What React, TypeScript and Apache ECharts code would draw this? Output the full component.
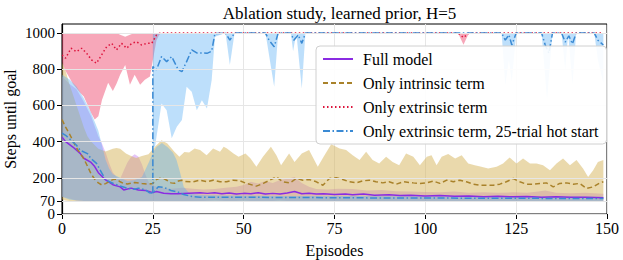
import React, { useEffect, useRef } from "react";
import * as echarts from "echarts";

const TITLE = "Ablation study, learned prior, H=5";
const Y_NAME = "Steps until goal";
const X_TICKS_INTERVAL = 25;
const Y_TICKS = [0, 70, 200, 400, 600, 800, 1000];
const THRESHOLD = 200;

const NAMES = [
  "Full model",
  "Only intrinsic term",
  "Only extrinsic term",
  "Only extrinsic term, 25-trial hot start",
];

// ---- Full model (mean) [episode, steps]
const fullMean = [
  [0, 425], [1, 400], [3, 370], [5, 335], [6, 308], [8, 285], [9, 262], [10, 228], [12, 188], [14, 162],
  [16, 150], [17, 133], [19, 143], [21, 133], [23, 130], [25, 118], [26, 124], [28, 115], [30, 112], [32, 112],
  [35, 115], [38, 118], [40, 114], [42, 118], [44, 112], [46, 116], [48, 110], [50, 114], [52, 112], [54, 118],
  [56, 110], [58, 114], [60, 110], [62, 116], [64, 124], [66, 112], [68, 115], [70, 110], [72, 112], [75, 108],
  [78, 110], [80, 106], [83, 110], [86, 104], [90, 106], [93, 102], [96, 104], [100, 100], [104, 102], [108, 98],
  [112, 100], [116, 96], [120, 98], [124, 95], [128, 97], [132, 93], [136, 95], [140, 92], [144, 93], [149, 90],
];
// ---- Full model band [episode, low, high]
const fullBand = [
  [0, 95, 760], [2, 85, 720], [4, 75, 690], [6, 72, 620], [8, 72, 540], [10, 72, 430], [11, 72, 390], [12, 72, 340],
  [13, 72, 280], [14, 72, 230], [15, 72, 205], [16, 72, 195], [17, 72, 240], [18, 72, 285], [19, 72, 315], [20, 72, 330],
  [21, 72, 318], [22, 72, 275], [23, 72, 215], [24, 72, 170], [26, 72, 150], [28, 72, 142], [30, 72, 140], [33, 72, 145],
  [36, 72, 140], [39, 72, 135], [42, 74, 138], [45, 72, 145], [48, 72, 150], [50, 74, 160], [52, 72, 178], [54, 72, 168],
  [56, 72, 182], [58, 72, 172], [60, 74, 188], [62, 72, 195], [64, 72, 205], [66, 72, 172], [68, 72, 150], [70, 72, 138],
  [73, 72, 135], [76, 72, 140], [80, 72, 138], [84, 72, 130], [88, 72, 132], [92, 72, 126], [96, 72, 124], [100, 72, 122],
  [104, 72, 120], [108, 72, 125], [112, 72, 118], [116, 72, 120], [120, 72, 117], [124, 72, 120], [128, 72, 118],
  [131, 72, 125], [133, 72, 130], [136, 72, 118], [140, 72, 115], [144, 72, 117], [149, 72, 112],
];

// ---- Only intrinsic term
const intrMean = [
  [0, 522], [1, 480], [2, 445], [3, 405], [4, 365], [5, 335], [6, 305], [7, 265], [8, 222], [9, 192], [10, 172],
  [11, 160], [12, 168], [13, 180], [14, 190], [15, 192], [16, 178], [17, 168], [18, 166], [19, 170], [20, 174],
  [22, 168], [24, 165], [25, 168], [26, 190], [27, 198], [28, 196], [29, 185], [30, 172], [31, 170], [32, 182],
  [33, 186], [34, 180], [36, 178], [38, 187], [40, 178], [41.6, 187], [43.5, 178], [45.3, 178], [47.1, 187],
  [49, 183], [50.8, 169], [53.5, 154], [55.4, 169], [57.2, 187], [59, 205], [60.8, 178], [62.7, 172], [64.5, 196],
  [66.3, 187], [68, 191], [70, 178], [71.8, 159], [73.6, 196], [75.5, 200], [77.3, 191], [79.1, 178], [81, 172],
  [82.8, 183], [84.6, 187], [86.4, 178], [88.3, 172], [90, 178], [92, 165], [94, 178], [96.7, 172], [98.5, 169],
  [100.4, 172], [102.2, 182], [104, 169], [105.9, 187], [107.7, 178], [109.5, 187], [111.3, 178], [113.2, 165],
  [115, 159], [116.8, 159], [118.7, 159], [120.5, 165], [122.3, 178], [124.2, 196], [126, 178], [127.8, 165],
  [129.7, 165], [131.5, 169], [133.3, 172], [135.2, 150], [137, 169], [138.9, 172], [140.7, 165], [142.5, 169],
  [144.4, 141], [146.2, 150], [148.1, 172], [149, 178],
];
const intrBand = [
  [0, 80, 840], [1, 75, 790], [2, 72, 720], [3, 72, 660], [4, 72, 600], [5, 72, 540], [6, 72, 480], [7, 72, 430],
  [8, 72, 400], [10, 72, 360], [12, 72, 345], [14, 72, 360], [15, 72, 365], [16, 72, 360], [17.6, 72, 335],
  [19, 72, 320], [20.4, 72, 310], [22, 72, 320], [23.8, 72, 330], [25.6, 72, 371], [27.4, 72, 408], [29, 72, 390],
  [31, 72, 343], [32.3, 72, 316], [33.7, 72, 343], [35, 72, 340], [36.5, 72, 362], [38, 72, 353], [39.8, 72, 325],
  [41.6, 72, 362], [43.5, 72, 344], [44.5, 72, 371], [45.4, 72, 362], [47.2, 72, 335], [48.6, 72, 316], [50.5, 72, 335],
  [51.9, 72, 307], [53.5, 72, 261], [55.3, 72, 316], [57.5, 72, 371], [59, 72, 325], [60.3, 72, 270], [62.5, 72, 335],
  [64, 72, 288], [66, 72, 335], [68, 72, 353], [70.4, 72, 261], [72, 72, 316], [74.1, 72, 386], [76.4, 72, 362],
  [78.2, 72, 353], [80, 72, 325], [81.9, 72, 298], [83.7, 72, 344], [85.5, 72, 298], [87.3, 72, 279], [89.2, 72, 316],
  [91, 72, 288], [92.8, 72, 270], [94.7, 72, 335], [96.7, 72, 316], [98.5, 72, 270], [100.4, 72, 316], [101.7, 72, 325],
  [103.1, 72, 270], [104.5, 72, 316], [106.3, 72, 331], [108.2, 72, 307], [110, 72, 325], [111.8, 72, 279],
  [113.6, 72, 270], [115.4, 72, 261], [117.3, 72, 252], [119.6, 72, 261], [121.4, 72, 279], [123.2, 72, 312],
  [125.1, 72, 279], [126.9, 72, 307], [128.8, 72, 279], [130.6, 72, 279], [132.4, 72, 270], [134.3, 72, 242],
  [136.1, 72, 279], [137.9, 72, 307], [139.8, 72, 270], [141.6, 72, 298], [143.4, 72, 252], [144.8, 72, 205],
  [146.2, 72, 242], [147.5, 72, 288], [149, 72, 298],
];

// ---- Only extrinsic term
const extrMean = [
  [0, 879], [1, 861], [2.5, 916], [4, 897], [5.4, 916], [6.8, 888], [8.1, 852], [9.5, 833], [10.9, 879],
  [12.3, 925], [13.7, 943], [15, 907], [16.4, 943], [17.8, 916], [19.2, 943], [20.5, 952], [21.9, 934],
  [23.3, 943], [24.7, 943], [26, 989], [27, 1000], [109, 1000], [110.5, 975], [112, 1000], [149, 1000],
];
const extrBand = [
  [0, 840, 1000], [1, 790, 1000], [2, 755, 1000], [3, 720, 1000], [5, 670, 1000], [6, 650, 1000], [8, 560, 1000],
  [9, 522, 1000], [10, 540, 1000], [11, 630, 1000], [12.7, 725, 1000], [14, 680, 1000], [15, 720, 1000],
  [16, 770, 990], [17.4, 824, 980], [18.7, 714, 990], [20, 769, 1000], [21.5, 714, 1000], [22.8, 742, 1000],
  [24.2, 760, 1000], [25, 850, 1000], [26, 960, 1000], [27, 1000, 1000], [109, 1000, 1000], [110.5, 935, 1000],
  [112, 1000, 1000], [149, 1000, 1000],
];

// ---- Only extrinsic term, 25-trial hot start (lower branch over all episodes)
const hotLowMean = [
  [0, 447], [1, 435], [3, 398], [4, 380], [5, 352], [7, 334], [8, 306], [9.5, 280], [11, 225], [12, 188],
  [14, 170], [16, 155], [18, 142], [20, 137], [21, 143], [23, 133], [24, 118], [25, 115], [26.5, 150], [28.2, 146],
  [30, 130], [31.8, 122], [33.5, 108], [35.4, 98], [38, 93], [45, 92], [55, 92], [65, 91], [75, 90], [85, 89],
  [95, 88], [105, 88], [115, 87], [125, 87], [135, 86], [149, 85],
];
const hotLowBand = [
  [0, 95, 770], [2, 80, 745], [4, 75, 705], [6, 72, 640], [8, 72, 560], [10, 72, 460], [11, 72, 380], [12, 72, 300],
  [13, 72, 250], [14, 72, 220], [16, 72, 200], [18, 72, 182], [20, 72, 188], [22, 72, 205], [24, 72, 290],
  [25, 72, 340], [26, 72, 370], [27.5, 72, 392], [29, 72, 370], [30.5, 72, 340], [31.5, 72, 300], [32.5, 72, 230],
  [33.5, 72, 150], [35, 72, 115], [38, 72, 105], [45, 72, 102], [60, 72, 100], [80, 72, 100], [100, 72, 98],
  [120, 72, 97], [149, 72, 96],
];
// ---- hot start, upper branch after the switch at episode 25
const hotHighMean = [
  [25, 115], [25, 815], [26, 797], [27.4, 870], [28.8, 842], [30.2, 870], [32, 797], [33, 787], [34.3, 842],
  [35.7, 907], [37.1, 890], [38.5, 890], [39.9, 888], [41.2, 900], [42.1, 998], [45, 1000], [46.2, 961],
  [47.5, 1000], [56, 1000], [57, 960], [58.4, 924], [59.5, 1000], [63, 1000], [63.8, 960], [65, 990], [66, 943],
  [67, 1000], [121, 1000], [122, 961], [123, 990], [123.8, 934], [125, 1000], [132, 1000], [133, 934], [134, 889],
  [135, 1000], [137.5, 1000], [138.5, 950], [139.5, 985], [140.5, 940], [141.5, 1000], [146.5, 1000], [147.5, 960],
  [149, 934],
];
const hotHighBand = [
  [25, 371, 1000], [25.6, 371, 1000], [27.4, 611, 1000], [28.8, 574, 1000], [30.2, 418, 1000], [31.6, 482, 1000],
  [33, 519, 1000], [34.3, 703, 1000], [35.7, 675, 1000], [37.1, 574, 1000], [38.5, 629, 1000], [39.9, 583, 1000],
  [41.2, 740, 1000], [42.1, 980, 1000], [45, 1000, 1000], [46.2, 823, 1000], [47.5, 1000, 1000], [56, 1000, 1000],
  [58.4, 703, 1000], [59.5, 1000, 1000], [63, 1000, 1000], [63.6, 900, 1000], [64.5, 1000, 1000], [66, 694, 1000],
  [67, 1000, 1000], [121, 1000, 1000], [122, 712, 1000], [123, 850, 1000], [123.8, 731, 1000], [125, 1000, 1000],
  [132, 1000, 1000], [133.5, 630, 1000], [135, 1000, 1000], [137.5, 1000, 1000], [138.5, 795, 1000],
  [139.3, 1000, 1000], [140.5, 712, 1000], [141.5, 1000, 1000], [146.5, 1000, 1000], [147.5, 850, 1000],
  [149, 723, 1000],
];

const COLORS = {
  full: "#8a2be2",
  intr: "#a9822a",
  extr: "#dc143c",
  hot: "#3a8ad4",
  fullBand: "rgba(190, 110, 240, 0.40)",
  intrBand: "rgba(214, 180, 90, 0.50)",
  extrBand: "rgba(240, 80, 115, 0.50)",
  hotBand: "rgba(90, 175, 245, 0.40)",
};

const FONT = "'Liberation Serif', 'DejaVu Serif', serif";

const GRID = { left: 62, right: 16, top: 24, bottom: 46 };
const CHART_W = 623;
const CHART_H = 260;
const Y_MAX = 1050;

function band(name: string, pts: number[][], fill: string) {
  return {
    type: "custom",
    name,
    silent: true,
    z: 1,
    data: pts,
    encode: { x: 0, y: [1, 2] },
    renderItem: (params: any, api: any) => {
      if (params.dataIndex !== 0) return null;
      const top = pts.map((p) => api.coord([p[0], p[2]]));
      const bot = pts.map((p) => api.coord([p[0], p[1]])).reverse();
      return {
        type: "polygon",
        shape: { points: top.concat(bot) },
        style: { fill, stroke: null },
      };
    },
  };
}

function line(name: string, data: number[][], color: string, type: any) {
  return {
    type: "line",
    name,
    data,
    z: 3,
    symbol: "none",
    showSymbol: false,
    lineStyle: { color, width: 1.5, type },
    itemStyle: { color },
  };
}

export default function App() {
  const ref = useRef<HTMLDivElement>(null);
  useEffect(() => {
    if (!ref.current) return;
    const chart = echarts.init(ref.current, undefined, { renderer: "svg" });
    const gridLines = Y_TICKS.map((v) => ({ yAxis: v }));
    const plotCenter = GRID.left + (CHART_W - GRID.left - GRID.right) / 2;
    const plotMiddle = GRID.top + (CHART_H - GRID.top - GRID.bottom) / 2;
    const yLabel = { fontFamily: FONT, fontSize: 15, color: "#000", margin: 7 };
    chart.setOption({
      animation: false,
      backgroundColor: "#fff",
      title: {
        text: TITLE,
        left: plotCenter,
        textAlign: "center",
        top: 0,
        textStyle: { fontFamily: FONT, fontSize: 17, fontWeight: "normal", color: "#000" },
      },
      graphic: [
        {
          type: "text",
          x: 10,
          y: plotMiddle,
          rotation: Math.PI / 2,
          style: {
            text: Y_NAME,
            fontFamily: FONT,
            fontSize: 16,
            fill: "#000",
            textAlign: "center",
            textVerticalAlign: "middle",
          },
        },
      ],
      grid: {
        ...GRID,
        outerBoundsMode: "none",
        containLabel: false,
        show: true,
        borderColor: "#000",
        borderWidth: 1,
        backgroundColor: "transparent",
      },
      legend: {
        data: NAMES,
        orient: "vertical",
        left: 316,
        top: 46,
        padding: [5, 8, 5, 6],
        itemGap: 8,
        itemWidth: 30,
        itemHeight: 14,
        z: 10,
        itemStyle: { opacity: 0 },
        backgroundColor: "rgba(255,255,255,0.9)",
        borderColor: "#d0d0d0",
        borderWidth: 1,
        borderRadius: 4,
        textStyle: { fontFamily: FONT, fontSize: 16, color: "#000", padding: [0, 0, 0, 5] },
      },
      xAxis: {
        type: "value",
        min: 0,
        max: 150,
        interval: X_TICKS_INTERVAL,
        name: "Episodes",
        nameLocation: "middle",
        nameGap: 28,
        nameTextStyle: { fontFamily: FONT, fontSize: 16, color: "#000" },
        axisLine: { show: true, lineStyle: { color: "#000", width: 1.2 } },
        axisTick: { show: true, inside: false, length: 5, lineStyle: { color: "#000" } },
        axisLabel: {
          fontFamily: FONT, fontSize: 16, color: "#000", margin: 6,
          formatter: (v: number) => String(v),
        },
        splitLine: { show: true, lineStyle: { color: "#e6e6e6", width: 1 } },
      },
      yAxis: [
        {
          type: "value",
          min: 0,
          max: Y_MAX,
          axisLine: { show: true, lineStyle: { color: "#000", width: 1.2 } },
          axisTick: { show: true, inside: false, length: 5, customValues: Y_TICKS, lineStyle: { color: "#000" } },
          axisLabel: {
            ...yLabel,
            customValues: Y_TICKS.slice(1),
            hideOverlap: false,
            formatter: (v: number) => String(v),
          },
          splitLine: { show: false },
        },
        {
          type: "value",
          min: 0,
          max: Y_MAX,
          position: "left",
          axisLine: { show: false },
          axisTick: { show: false },
          axisLabel: {
            ...yLabel,
            customValues: Y_TICKS.slice(0, 1),
            formatter: (v: number) => String(v),
          },
          splitLine: { show: false },
        },
      ],
      series: [
        {
          type: "line",
          name: "_grid",
          data: [[0, 0]],
          symbol: "none",
          lineStyle: { opacity: 0 },
          z: 0,
          silent: true,
          markLine: {
            silent: true,
            symbol: "none",
            label: { show: false },
            lineStyle: { color: "#e6e6e6", width: 1, type: "solid" },
            data: gridLines,
          },
        },
        band("_fullBand", fullBand, COLORS.fullBand),
        band("_intrBand", intrBand, COLORS.intrBand),
        band("_extrBand", extrBand, COLORS.extrBand),
        band("_hotLowBand", hotLowBand, COLORS.hotBand),
        band("_hotHighBand", hotHighBand, COLORS.hotBand),
        {
          ...line(NAMES[0], fullMean, COLORS.full, "solid"),
          markLine: {
            silent: true,
            symbol: "none",
            label: { show: false },
            z: 2,
            lineStyle: { color: "#444", width: 1.2, type: [2.5, 2] },
            data: [{ yAxis: THRESHOLD }],
          },
        },
        line(NAMES[1], intrMean, COLORS.intr, [5, 3]),
        line(NAMES[2], extrMean, COLORS.extr, [1.5, 2.5]),
        line(NAMES[3], hotLowMean, COLORS.hot, [7, 2.5, 1.5, 2.5]),
        line(NAMES[3], hotHighMean, COLORS.hot, [7, 2.5, 1.5, 2.5]),
      ],
    });
    return () => chart.dispose();
  }, []);
  return (
    <div
      ref={ref}
      style={{ position: "absolute", left: 0, top: 0, width: CHART_W, height: CHART_H }}
    />
  );
}
